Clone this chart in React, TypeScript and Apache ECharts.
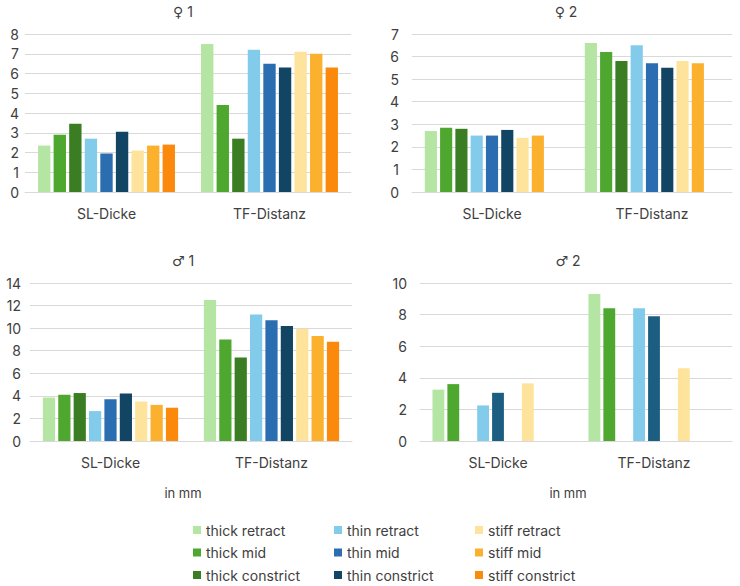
import React, { useEffect, useRef } from 'react';
import * as echarts from 'echarts';

const categories = ['SL-Dicke', 'TF-Distanz'];

const seriesNames = [
    'thick retract', 'thick mid', 'thick constrict',
    'thin retract', 'thin mid', 'thin constrict',
    'stiff retract', 'stiff mid', 'stiff constrict'
];

const seriesColors = [
    '#b4e5a2', '#4ea72e', '#3b7d23',
    '#83cbeb', '#2a6db0', '#124563',
    '#fde39b', '#fbb12e', '#fb8a0c'
];

// one pair per series: [SL-Dicke, TF-Distanz]
const female1 = [
    [2.35, 7.5], [2.9, 4.4], [3.45, 2.7],
    [2.7, 7.2], [1.95, 6.5], [3.05, 6.3],
    [2.1, 7.1], [2.35, 7.0], [2.4, 6.3]
];
const female2 = [
    [2.7, 6.6], [2.85, 6.2], [2.8, 5.8],
    [2.5, 6.5], [2.5, 5.7], [2.75, 5.5],
    [2.4, 5.8], [2.5, 5.7], [null, null]
];
const male1 = [
    [3.85, 12.5], [4.1, 9.0], [4.25, 7.4],
    [2.65, 11.2], [3.7, 10.7], [4.2, 10.2],
    [3.5, 9.95], [3.2, 9.3], [2.95, 8.8]
];
const male2 = [
    [3.25, 9.3], [3.6, 8.4], [null, null],
    [2.25, 8.4], [3.05, 7.9], [null, null],
    [3.65, 4.6], [null, null], [null, null]
];

const panels = [
    { title: '♀ 1', data: female1, max: 8, interval: 1, left: 25, top: 34, width: 326, yMargin: 6, titleX: 183, unit: false, colorFix: {} as Record<number, string> },
    { title: '♀ 2', data: female2, max: 7, interval: 1, left: 412, top: 34, width: 320, yMargin: 13, titleX: 566, unit: false, colorFix: {} as Record<number, string> },
    { title: '♂ 1', data: male1, max: 14, interval: 2, left: 30, top: 283, width: 322, yMargin: 9, titleX: 183, unit: true, colorFix: {} as Record<number, string> },
    { title: '♂ 2', data: male2, max: 10, interval: 2, left: 420, top: 283, width: 312, yMargin: 13, titleX: 568, unit: true, colorFix: { 4: '#1b5e82' } as Record<number, string> }
];

const FONT = 'Inter, "DejaVu Sans", sans-serif';
const TEXT = '#404040';
const GRID_LINE = '#d9d9d9';

const App: React.FC = () => {
    const chartRef = useRef<HTMLDivElement>(null);

    useEffect(() => {
        if (!chartRef.current) return;
        const chart = echarts.init(chartRef.current, null, { renderer: 'svg' });

        const grids: any[] = [];
        const xAxes: any[] = [];
        const yAxes: any[] = [];
        const series: any[] = [];
        const graphics: any[] = [];

        panels.forEach((p, pi) => {
            grids.push({ left: p.left, top: p.top, width: p.width, height: 158 });
            xAxes.push({
                type: 'category',
                gridIndex: pi,
                data: categories,
                axisLine: { lineStyle: { color: GRID_LINE } },
                axisTick: { show: false },
                axisLabel: { color: TEXT, fontSize: 14, fontFamily: FONT, margin: 14 }
            });
            yAxes.push({
                type: 'value',
                gridIndex: pi,
                min: 0,
                max: p.max,
                interval: p.interval,
                axisLine: { show: false },
                axisTick: { show: false },
                splitLine: { lineStyle: { color: GRID_LINE } },
                axisLabel: { color: TEXT, fontSize: 14, fontFamily: FONT, margin: p.yMargin }
            });
            seriesNames.forEach((name, si) => {
                series.push({
                    name,
                    type: 'bar',
                    xAxisIndex: pi,
                    yAxisIndex: pi,
                    barGap: '26%',
                    barCategoryGap: '16%',
                    itemStyle: { color: p.colorFix[si] || seriesColors[si] },
                    data: p.data[si]
                });
            });
            graphics.push({
                type: 'text',
                x: p.titleX,
                y: p.top - 23,
                style: {
                    text: p.title,
                    font: `14px ${FONT}`,
                    fill: TEXT,
                    textAlign: 'center',
                    textVerticalAlign: 'middle',
                    align: 'center',
                    verticalAlign: 'middle'
                }
            });
            if (p.unit) {
                graphics.push({
                    type: 'text',
                    x: p.left + p.width / 2 - 8,
                    y: 493,
                    style: {
                        text: 'in mm',
                        font: `13px ${FONT}`,
                        fill: TEXT,
                        textAlign: 'center',
                        textVerticalAlign: 'middle',
                        align: 'center',
                        verticalAlign: 'middle'
                    }
                });
            }
        });

        const legendBase = {
            orient: 'vertical',
            top: 523,
            height: 100,
            padding: 0,
            icon: 'rect',
            itemWidth: 8,
            itemHeight: 8,
            itemGap: 8.5,
            selectedMode: false,
            textStyle: { color: TEXT, fontSize: 14, fontFamily: FONT, lineHeight: 14 }
        };

        chart.setOption({
            animation: false,
            backgroundColor: '#ffffff',
            grid: grids,
            xAxis: xAxes,
            yAxis: yAxes,
            legend: [
                { ...legendBase, left: 193, data: seriesNames.slice(0, 3) },
                { ...legendBase, left: 334, data: seriesNames.slice(3, 6) },
                { ...legendBase, left: 475, data: seriesNames.slice(6, 9) }
            ],
            graphic: graphics,
            series
        });

        return () => {
            chart.dispose();
        };
    }, []);

    return (
        <div
            ref={chartRef}
            style={{ position: 'fixed', left: 0, top: 0, width: 740, height: 586 }}
        />
    );
};

export default App;
